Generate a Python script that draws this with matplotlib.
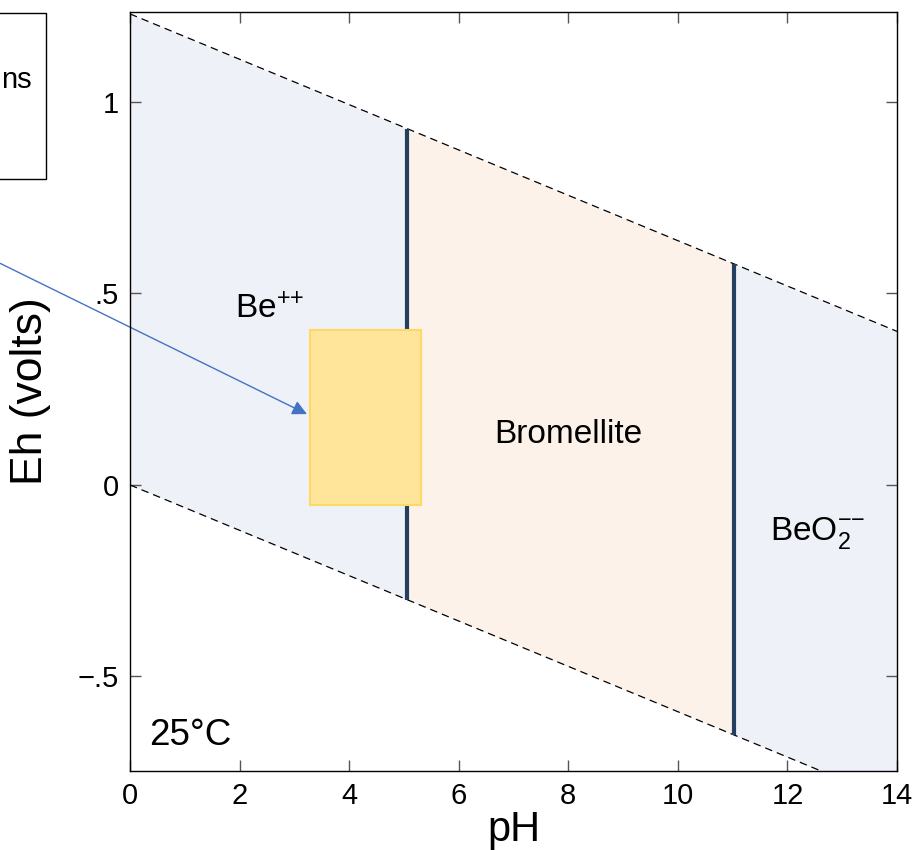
import matplotlib
matplotlib.use('Agg')
import matplotlib.pyplot as plt
from matplotlib.patches import Rectangle
import numpy as np

plt.rcParams['font.family'] = ['Liberation Sans', 'DejaVu Sans']
plt.rcParams['mathtext.fontset'] = 'custom'
plt.rcParams['mathtext.rm'] = 'Liberation Sans'
plt.rcParams['mathtext.it'] = 'Liberation Sans'
plt.rcParams['mathtext.bf'] = 'Liberation Sans:bold'

# water stability limits (pH, Eh)
water_ph = [0, 14]
upper_eh = [1.23, 0.401]
lower_eh = [0.0, -0.829]

# field boundaries in pH
field_edges = [0, 5.06, 11.02, 14]
field_names = ['Be$^{{+}{+}}$', 'Bromellite', 'BeO$_2^{{-}{-}}$']
field_colors = ['#eef1f8', '#fcf2ea', '#eef1f8']

# natural-water box (pH range, Eh range)
box_ph = [3.28, 5.31]
box_eh = [-0.052, 0.405]

x_ticks = [0, 2, 4, 6, 8, 10, 12, 14]
y_ticks = [-0.5, 0, 0.5, 1]
y_tick_labels = ['\u2212.5', '0', '.5', '1']

fig = plt.figure(figsize=(9.16, 8.5), dpi=100)
ax = fig.add_axes([0.1419, 0.0929, 0.8374, 0.8930])

# shaded fields between the water lines
for i in range(3):
    xs = np.linspace(field_edges[i], field_edges[i + 1], 50)
    top = np.interp(xs, water_ph, upper_eh)
    bot = np.interp(xs, water_ph, lower_eh)
    ax.fill_between(xs, bot, top, color=field_colors[i], lw=0, zorder=1)

# water lines
ax.plot(water_ph, upper_eh, color='black', ls=(0, (6, 4)), lw=0.9, zorder=2)
ax.plot(water_ph, lower_eh, color='black', ls=(0, (6, 4)), lw=0.9, zorder=2)

# boundaries
for ph in field_edges[1:3]:
    ax.plot([ph, ph], [np.interp(ph, water_ph, lower_eh), np.interp(ph, water_ph, upper_eh)],
            color='#243f60', lw=3, solid_capstyle='butt', zorder=3)

# yellow box
ax.add_patch(Rectangle((box_ph[0], box_eh[0]), box_ph[1] - box_ph[0], box_eh[1] - box_eh[0],
                       facecolor='#ffe599', edgecolor='#ffd966', lw=1.5, zorder=4))

# arrow from off to the left
ax.annotate('', xy=(3.23, 0.185), xytext=(-3.3, 0.644), annotation_clip=False,
            arrowprops=dict(arrowstyle='-|>', color='#4472c4', lw=1,
                            mutation_scale=22, shrinkA=0, shrinkB=0), zorder=5)

# field labels
ax.text(2.54, 0.436, field_names[0], fontsize=24, ha='center', va='baseline', zorder=6)
ax.text(8.0, 0.11, field_names[1], fontsize=24, ha='center', va='baseline', zorder=6)
ax.text(12.55, -0.145, field_names[2], fontsize=24, ha='center', va='baseline', zorder=6)
ax.text(0.35, -0.655, '25°C', fontsize=26.5, ha='left', va='center', zorder=6)

ax.set_xlim(0, 14)
ax.set_ylim(-0.747, 1.235)
ax.set_xticks(x_ticks)
ax.set_yticks(y_ticks)
ax.set_yticklabels(y_tick_labels)
ax.tick_params(direction='in', length=8, width=1, color='#555555', labelsize=21,
               top=True, right=True, pad=8)
for s in ax.spines.values():
    s.set_linewidth(1)
    s.set_zorder(7)

ax.set_xlabel('pH', fontsize=30, va='top')
ax.xaxis.set_label_coords(0.5, -0.051)
ax.set_ylabel('Eh (volts)', fontsize=32, labelpad=19)

# clipped legend box on the far left
fig.patches.append(Rectangle((-0.1, 1 - 179 / 850), 0.1 + 46 / 916, 166 / 850,
                             transform=fig.transFigure, fill=False, edgecolor='black', lw=1))
fig.text(1 / 916, 1 - 80 / 850, 'ns', fontsize=21, ha='left', va='center')

fig.savefig('out.png', dpi=100)
